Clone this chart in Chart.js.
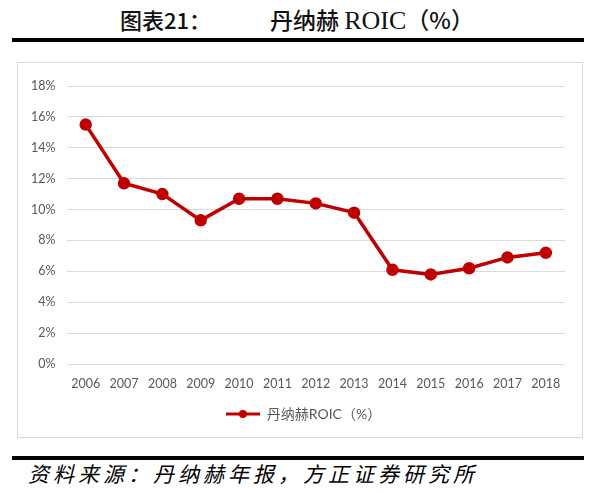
<!DOCTYPE html>
<html lang="zh">
<head>
<meta charset="UTF-8">
<title>丹纳赫 ROIC</title>
<script src="https://cdn.jsdelivr.net/npm/chart.js"></script>
<style>
    body { margin: 0; width: 603px; height: 493px; background: #fff; position: relative; overflow: hidden; }
    .titulo { position: absolute; top: 3px; left: 0; width: 603px; height: 30px; font-family: "Noto Sans CJK SC", sans-serif; font-size: 22px; font-weight: 500; color: #111; }
    .titulo .num { position: absolute; left: 120px; top: 0; }
    .titulo .nome { position: absolute; left: 270px; top: -1px; font-size: 23px; }
    .titulo .latin { font-family: "Liberation Serif", serif; font-size: 26px; font-weight: 400; }
    .barra { position: absolute; left: 12px; width: 572px; height: 4px; background: #000; }
    .caixa { position: absolute; left: 17px; top: 62px; width: 564px; height: 374px; border: 1px solid #d9d9d9; }
    .fonte { position: absolute; left: 28px; top: 458px; font-family: "Noto Sans CJK SC", sans-serif; font-style: italic; font-size: 21px; letter-spacing: 4px; color: #000; }
</style>
</head>
<body>
    <div class="titulo">
        <span class="num">图表21：</span>
        <span class="nome">丹纳赫 <span class="latin">ROIC</span>（%）</span>
    </div>
    <div class="barra" style="top: 38px;"></div>
    <div class="caixa">
        <canvas id="grafico" width="564" height="374"></canvas>
    </div>
    <div class="barra" style="top: 456px;"></div>
    <div class="fonte">资料来源：丹纳赫年报，方正证券研究所</div>
<script>
    // dados
    const anos = ['2006', '2007', '2008', '2009', '2010', '2011', '2012', '2013', '2014', '2015', '2016', '2017', '2018'];
    const roic = [15.5, 11.7, 11.0, 9.3, 10.7, 10.7, 10.4, 9.8, 6.1, 5.8, 6.2, 6.9, 7.2];
    const ticksY = [0, 2, 4, 6, 8, 10, 12, 14, 16, 18];
    const nomeSerie = '丹纳赫ROIC（%）';
    const vermelho = '#c00000';

    // icone da legenda: linha com bolinha no meio
    const icone = document.createElement('canvas');
    icone.width = 34;
    icone.height = 10;
    const ctx = icone.getContext('2d');
    ctx.strokeStyle = vermelho;
    ctx.lineWidth = 3;
    ctx.beginPath();
    ctx.moveTo(0, 5);
    ctx.lineTo(34, 5);
    ctx.stroke();
    ctx.fillStyle = vermelho;
    ctx.beginPath();
    ctx.arc(17, 5, 4, 0, Math.PI * 2);
    ctx.fill();

    const fonteEixo = { family: "Lato, 'Noto Sans CJK SC', sans-serif", size: 12.5 };

    // empurra a legenda um pouco para a direita, como no original
    const desvioLegenda = {
        id: 'desvioLegenda',
        afterLayout(chart) {
            chart.legend.left += 11;
            chart.legend.right += 11;
        }
    };

    new Chart(document.getElementById('grafico'), {
        type: 'line',
        data: {
            labels: anos,
            datasets: [{
                label: nomeSerie,
                data: roic,
                borderColor: vermelho,
                backgroundColor: vermelho,
                borderWidth: 3.5,
                pointRadius: 4.5,
                pointHoverRadius: 4.5,
                tension: 0
            }]
        },
        options: {
            responsive: false,
            animation: false,
            layout: { padding: { top: 23, right: 17, left: 2, bottom: 6 } },
            plugins: {
                legend: {
                    position: 'bottom',
                    labels: {
                        usePointStyle: true,
                        pointStyle: icone,
                        pointStyleWidth: 34,
                        color: '#595959',
                        font: { family: fonteEixo.family, size: 14 },
                        padding: 12
                    }
                },
                tooltip: { enabled: false }
            },
            scales: {
                x: {
                    offset: true,
                    grid: { display: false },
                    border: { display: false },
                    ticks: { color: '#595959', font: fonteEixo, maxRotation: 0, padding: 4 }
                },
                y: {
                    min: 0,
                    max: 18,
                    afterBuildTicks: (eixo) => { eixo.ticks = ticksY.map(v => ({ value: v })); },
                    grid: { color: '#d9d9d9', lineWidth: 1, drawTicks: false },
                    border: { display: false },
                    ticks: { color: '#595959', font: fonteEixo, padding: 11, callback: (v) => v + '%' }
                }
            }
        },
        plugins: [desvioLegenda]
    });
</script>
</body>
</html>
